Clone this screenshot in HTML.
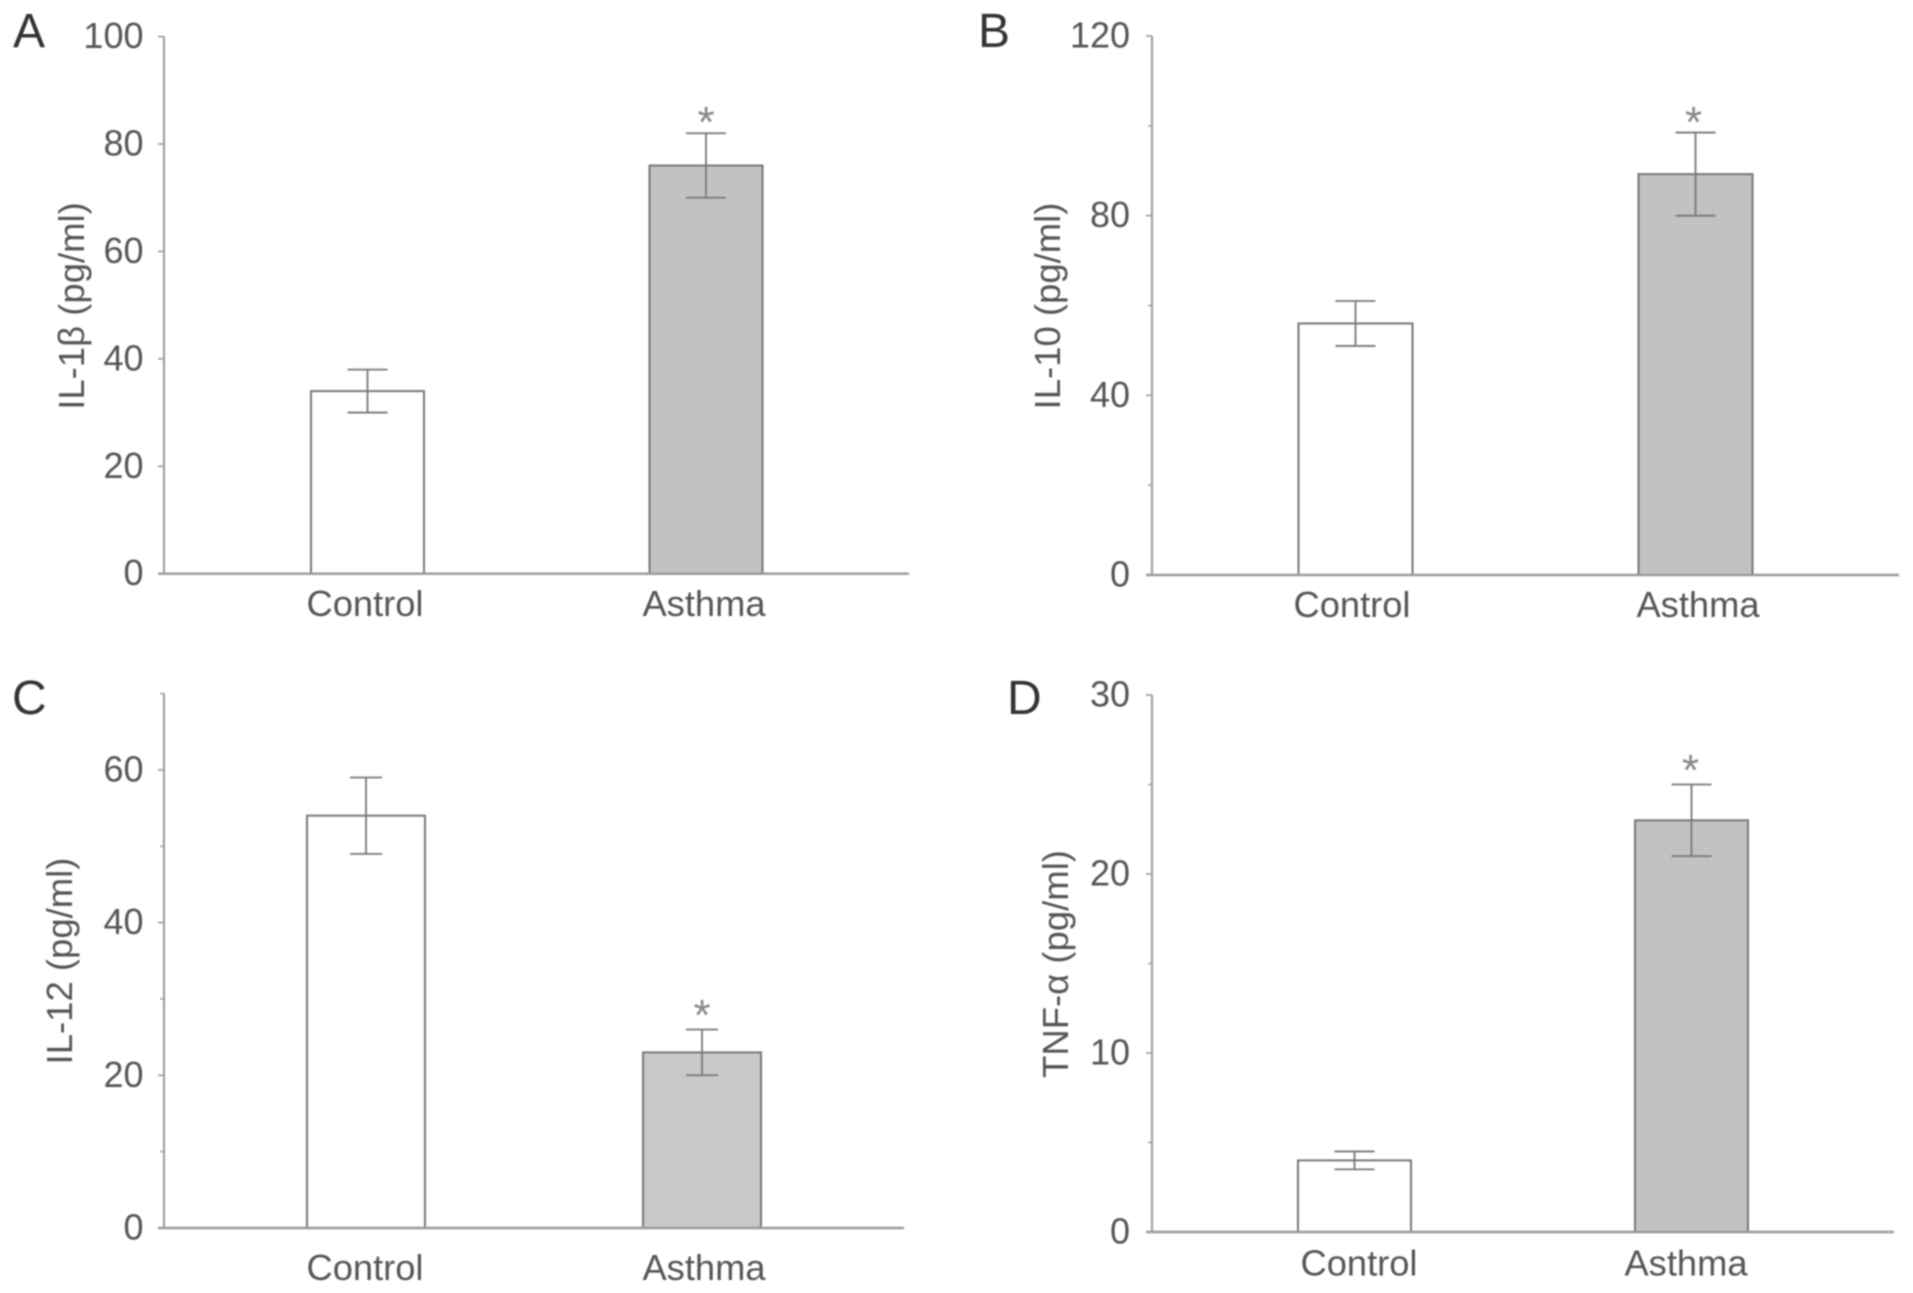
<!DOCTYPE html>
<html lang="en">
<head>
<meta charset="utf-8">
<title>Cytokine levels in control and asthma groups</title>
<style>
  html, body { margin: 0; padding: 0; background: #fff; }
  #figure { display: block; width: 1913px; height: 1293px; filter: blur(0.75px); }
  text { font-family: "Liberation Sans", "DejaVu Sans", sans-serif; fill: #555; }
  .letter { font-size: 48px; fill: #333; }
  .title { font-size: 36.5px; }
  .tick { font-size: 36px; text-anchor: end; }
  .cat { font-size: 36.3px; text-anchor: middle; }
  .star { font-size: 44px; text-anchor: middle; fill: #888; }
</style>
</head>
<body>
<svg id="figure" xmlns="http://www.w3.org/2000/svg" width="1913" height="1293" viewBox="0 0 1913 1293">
  <rect x="0" y="0" width="1913" height="1293" fill="#fff"/>

  <text class="letter" x="13" y="47">A</text>
  <text class="letter" x="978" y="47">B</text>
  <text class="letter" x="12" y="714">C</text>
  <text class="letter" x="1007" y="714">D</text>

  <text class="title" text-anchor="middle" transform="translate(84 306) rotate(-90)">IL-1β (pg/ml)</text>
  <text class="title" text-anchor="middle" transform="translate(1060 306) rotate(-90)">IL-10 (pg/ml)</text>
  <text class="title" text-anchor="middle" transform="translate(72 961) rotate(-90)">IL-12 (pg/ml)</text>
  <text class="title" text-anchor="middle" transform="translate(1068 964) rotate(-90)">TNF-α (pg/ml)</text>

  <g id="plots"></g>
</svg>

<script>
// Data
const categories = ['Control', 'Asthma'];

const valuesA = [34, 76];
const errorsA = [4, 6];
const ticksA = [0, 20, 40, 60, 80, 100];
const minorTicksA = [];
const maxA = 100;

const valuesB = [56, 89.25];
const errorsB = [5, 9.25];
const ticksB = [0, 40, 80, 120];
const minorTicksB = [20, 60, 100];
const maxB = 120;

const valuesC = [54, 23];
const errorsC = [5, 3];
const ticksC = [0, 20, 40, 60];
const minorTicksC = [10, 30, 50, 70];
const maxC = 70;

const valuesD = [4, 23];
const errorsD = [0.5, 2];
const ticksD = [0, 10, 20, 30];
const minorTicksD = [5, 15, 25];
const maxD = 30;

const significant = [false, true];

// Panel layout
const panels = [
  { id: 'a', values: valuesA, errors: errorsA, ticks: ticksA, minor: minorTicksA, max: maxA,
    left: 164, right: 909, top: 36.6, bottom: 573.7, first: 367.5, step: 338.5, barW: 113, cap: 20,
    labelRight: 143.5, catFirst: 365, catStep: 339, catY: 616, starDx: 0, starY: 137 },
  { id: 'b', values: valuesB, errors: errorsB, ticks: ticksB, minor: minorTicksB, max: maxB,
    left: 1152, right: 1899, top: 36, bottom: 575, first: 1355.5, step: 340, barW: 114, cap: 20,
    labelRight: 1130, catFirst: 1352, catStep: 346, catY: 617, starDx: -2, starY: 137 },
  { id: 'c', values: valuesC, errors: errorsC, ticks: ticksC, minor: minorTicksC, max: maxC,
    left: 164, right: 904, top: 693.5, bottom: 1228, first: 366, step: 336, barW: 118, cap: 16,
    labelRight: 143.5, catFirst: 365, catStep: 339, catY: 1280, starDx: 0, starY: 1030 },
  { id: 'd', values: valuesD, errors: errorsD, ticks: ticksD, minor: minorTicksD, max: maxD,
    left: 1152, right: 1894, top: 695, bottom: 1232, first: 1354.5, step: 337, barW: 113, cap: 20,
    labelRight: 1130, catFirst: 1359, catStep: 327, catY: 1275.7, starDx: -1, starY: 785 }
];

const SVG_NS = 'http://www.w3.org/2000/svg';
const AXIS_COLOR = '#999';
const MARK_COLOR = '#777';

function make(parent, tag, name, attrs, content) {
  const el = document.createElementNS(SVG_NS, tag);
  
  
  Object.keys(attrs).forEach(function (key) { el.setAttribute(key, attrs[key]); });
  if (content !== undefined) el.textContent = content;
  parent.appendChild(el);
  return el;
}

function drawPanel(p) {
  const plots = document.getElementById('plots');
  const g = make(plots, 'g', 'bar-chart-' + p.id, {});
  const yScale = function (v) { return p.bottom - (v / p.max) * (p.bottom - p.top); };
  const xScale = function (i) { return p.first + i * p.step; };

  // Bars
  categories.forEach(function (cat, i) {
    const cx = xScale(i);
    const y = yScale(p.values[i]);
    make(g, 'rect', 'bar-' + p.id + '-' + cat.toLowerCase(), {
      x: cx - p.barW / 2, y: y, width: p.barW, height: p.bottom - y,
      fill: i === 0 ? '#fff' : (p.id === 'c' ? '#c8c8c8' : '#c2c2c2'),
      stroke: MARK_COLOR, 'stroke-width': 2
    });
  });

  // Axes
  make(g, 'line', 'y-axis-' + p.id, { x1: p.left, x2: p.left, y1: p.top, y2: p.bottom, stroke: AXIS_COLOR, 'stroke-width': 2 });
  make(g, 'line', 'x-axis-' + p.id, { x1: p.left - 6, x2: p.right, y1: p.bottom, y2: p.bottom, stroke: AXIS_COLOR, 'stroke-width': 2.4 });

  // Ticks
  p.ticks.forEach(function (t) {
    const y = yScale(t);
    make(g, 'line', 'y-tick-' + p.id + '-' + t, { x1: p.left - 6, x2: p.left, y1: y, y2: y, stroke: AXIS_COLOR, 'stroke-width': 1.6 });
    make(g, 'text', 'y-tick-label-' + p.id + '-' + t, { class: 'tick', x: p.labelRight, y: y + 11.5 }, String(t));
  });
  p.minor.forEach(function (t) {
    const y = yScale(t);
    make(g, 'line', 'y-minor-tick-' + p.id + '-' + t, { x1: p.left - 4, x2: p.left, y1: y, y2: y, stroke: AXIS_COLOR, 'stroke-width': 1.4 });
  });

  // Error bars and significance marks
  categories.forEach(function (cat, i) {
    const cx = xScale(i);
    const hi = yScale(p.values[i] + p.errors[i]);
    const lo = yScale(p.values[i] - p.errors[i]);
    const key = p.id + '-' + cat.toLowerCase();
    make(g, 'line', 'error-stem-' + key, { x1: cx, x2: cx, y1: hi, y2: lo, stroke: MARK_COLOR, 'stroke-width': 1.8 });
    make(g, 'line', 'error-cap-top-' + key, { x1: cx - p.cap, x2: cx + p.cap, y1: hi, y2: hi, stroke: MARK_COLOR, 'stroke-width': 1.8 });
    make(g, 'line', 'error-cap-bottom-' + key, { x1: cx - p.cap, x2: cx + p.cap, y1: lo, y2: lo, stroke: MARK_COLOR, 'stroke-width': 1.8 });
    if (significant[i]) {
      make(g, 'text', 'significance-star-' + p.id, { class: 'star', x: cx + p.starDx, y: p.starY }, '*');
    }
    make(g, 'text', 'category-label-' + key, { class: 'cat', x: p.catFirst + i * p.catStep, y: p.catY }, cat);
  });
}

panels.forEach(drawPanel);
</script>
</body>
</html>
